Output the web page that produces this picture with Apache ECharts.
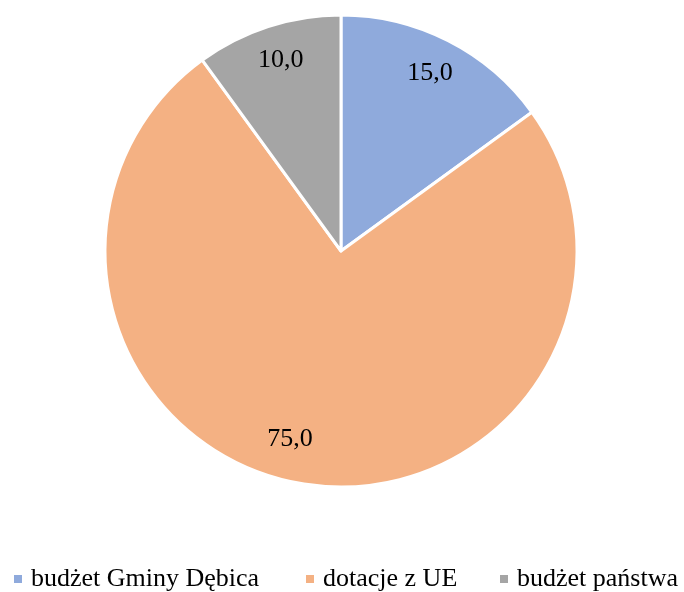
<!DOCTYPE html>
<html><head><meta charset="utf-8">
<script src="https://cdn.jsdelivr.net/npm/echarts@6/dist/echarts.min.js"></script>
<style>html,body{margin:0;padding:0;background:#fff}#c{width:684px;height:592px}</style>
</head><body><div id="c"></div>
<script>
const categories = ['budżet Gminy Dębica', 'dotacje z UE', 'budżet państwa'];
const values = [15.0, 75.0, 10.0];
const colors = ['#8FAADC', '#F4B183', '#A5A5A5'];

const data = categories.map((n, i) => ({ name: n, value: values[i], itemStyle: { color: colors[i] } }));
const chart = echarts.init(document.getElementById('c'));
const font = '"Liberation Serif", "Times New Roman", serif';
const offsets = [[-4, 5], [-19, -14], [3, 4]];
const legendLeft = [12, 304, 498];
chart.setOption({
  animation: false,
  textStyle: { fontFamily: font },
  legend: categories.map((n, i) => ({
    top: 566,
    left: legendLeft[i],
    padding: 0,
    itemWidth: 10, itemHeight: 10,
    icon: 'rect',
    formatter: '{t|{name}}',
    textStyle: { fontFamily: font, fontSize: 26, color: '#000',
      rich: { t: { fontFamily: font, fontSize: 26, color: '#000', padding: [0, 0, 0, 3] } } },
    data: [n]
  })),
  series: [{
    type: 'pie',
    center: [341, 251],
    radius: [0, 236],
    startAngle: 90,
    itemStyle: { borderColor: '#fff', borderWidth: 3 },
    label: { show: false },
    labelLine: { show: false },
    data: data
  }, {
    type: 'pie',
    center: [341, 251],
    radius: [168, 236],
    startAngle: 90,
    silent: true,
    itemStyle: { color: 'rgba(0,0,0,0)', borderWidth: 0 },
    label: {
      show: true, position: 'inside',
      fontFamily: font, fontSize: 26, color: '#000',
      formatter: p => p.value.toFixed(1).replace('.', ',')
    },
    labelLine: { show: false },
    data: categories.map((n, i) => ({ name: n, value: values[i], label: { offset: offsets[i] } }))
  }]
});
</script></body></html>
